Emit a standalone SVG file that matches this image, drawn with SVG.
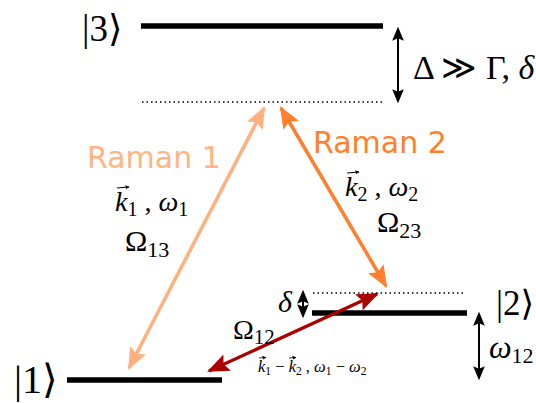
<svg xmlns="http://www.w3.org/2000/svg" width="536" height="403" viewBox="0 0 536 403">
<style>
.lvl{stroke:#000;stroke-width:5.5;fill:none}
.dot{stroke:#000;stroke-width:1.3;stroke-dasharray:1.5 3;fill:none}
.m{font-family:"Liberation Serif","DejaVu Serif",serif;fill:#000}
.i{font-style:italic}
.r{font-family:"DejaVu Sans","Liberation Sans",sans-serif}
</style>
<defs>
<marker id="hb" markerUnits="userSpaceOnUse" markerWidth="14" markerHeight="14" refX="10" refY="5" orient="auto-start-reverse" viewBox="0 0 12 10"><path d="M0,0 L12,5 L0,10 L2,5 Z" fill="#000"/></marker>
<marker id="h1" markerUnits="userSpaceOnUse" markerWidth="22" markerHeight="18" refX="20" refY="9" orient="auto-start-reverse" viewBox="0 0 22 18"><path d="M0,0 L22,9 L0,18 L4,9 Z" fill="#FFB07E"/></marker>
<marker id="h2" markerUnits="userSpaceOnUse" markerWidth="22" markerHeight="18" refX="20" refY="9" orient="auto-start-reverse" viewBox="0 0 22 18"><path d="M0,0 L22,9 L0,18 L4,9 Z" fill="#FF7F2A"/></marker>
<marker id="h3" markerUnits="userSpaceOnUse" markerWidth="22" markerHeight="18" refX="20" refY="9" orient="auto-start-reverse" viewBox="0 0 22 18"><path d="M0,0 L22,9 L0,18 L4,9 Z" fill="#AA0000"/></marker>
<marker id="va" markerUnits="userSpaceOnUse" markerWidth="4" markerHeight="4" refX="3.5" refY="2" orient="auto" viewBox="0 0 4 4"><path d="M0,0 L4,2 L0,4 Z" fill="#000"/></marker>
</defs>

<g id="level3">
<line class="lvl" x1="141" y1="26" x2="383" y2="26"/>
<text class="m" x="82" y="41" font-size="37">|3⟩</text>
</g>
<g id="virtual3">
<line class="dot" x1="142" y1="102" x2="383" y2="102"/>
</g>
<g id="level2">
<line class="lvl" x1="312" y1="313" x2="467" y2="313"/>
<text class="m" x="496" y="315" font-size="35">|2⟩</text>
</g>
<g id="virtual2">
<line class="dot" x1="313" y1="293" x2="466" y2="293"/>
</g>
<g id="level1">
<line class="lvl" x1="67" y1="380" x2="222" y2="380"/>
<text class="m" x="14" y="393" font-size="40">|1⟩</text>
</g>

<g id="connectors">
<line x1="398" y1="29" x2="398" y2="101" stroke="#000" stroke-width="2" marker-start="url(#hb)" marker-end="url(#hb)"/>
<line x1="303" y1="292" x2="303" y2="316" stroke="#000" stroke-width="2" marker-start="url(#hb)" marker-end="url(#hb)"/>
<line x1="479" y1="314" x2="479" y2="378" stroke="#000" stroke-width="2" marker-start="url(#hb)" marker-end="url(#hb)"/>
<line x1="129" y1="368" x2="264" y2="108" stroke="#FFB07E" stroke-width="3.5" marker-start="url(#h1)" marker-end="url(#h1)"/>
<line x1="281" y1="108" x2="386" y2="286" stroke="#FF7F2A" stroke-width="3.5" marker-start="url(#h2)" marker-end="url(#h2)"/>
<line x1="209" y1="371" x2="377" y2="294" stroke="#AA0000" stroke-width="3.2" marker-start="url(#h3)" marker-end="url(#h3)"/>
</g>

<g id="labels">
<text class="m" x="413" y="79" font-size="34">Δ ≫ Γ, <tspan class="i">δ</tspan></text>
<text class="m i" x="278" y="312" font-size="30">δ</text>
<text class="m" x="489" y="358" font-size="32"><tspan class="i">ω</tspan><tspan font-size="22" dy="5">12</tspan></text>

<text class="r" x="87" y="168" font-size="30" fill="#FFB483">Raman 1</text>
<text class="r" x="313" y="153" font-size="30" fill="#FF7F2A">Raman 2</text>

<text class="m" x="115" y="211" font-size="28"><tspan class="i">k</tspan><tspan font-size="20" dy="5">1</tspan><tspan dy="-5"> , </tspan><tspan class="i">ω</tspan><tspan font-size="20" dy="5">1</tspan></text>
<line x1="117" y1="188" x2="129" y2="187" stroke="#000" stroke-width="1.2" marker-end="url(#va)"/>
<text class="m" x="125" y="251" font-size="30">Ω<tspan font-size="22" dy="6">13</tspan></text>

<text class="m" x="345" y="196" font-size="28"><tspan class="i">k</tspan><tspan font-size="20" dy="5">2</tspan><tspan dy="-5"> , </tspan><tspan class="i">ω</tspan><tspan font-size="20" dy="5">2</tspan></text>
<line x1="347" y1="173" x2="359" y2="172" stroke="#000" stroke-width="1.2" marker-end="url(#va)"/>
<text class="m" x="377" y="232" font-size="30">Ω<tspan font-size="22" dy="6">23</tspan></text>

<text class="m" x="233" y="339" font-size="28">Ω<tspan font-size="21" dy="5">12</tspan></text>

<text class="m" x="258" y="372" font-size="16.5"><tspan class="i">k</tspan><tspan font-size="11.5" dy="2.5">1</tspan><tspan dy="-2.5"> − </tspan><tspan class="i">k</tspan><tspan font-size="11.5" dy="2.5">2</tspan><tspan dy="-2.5"> , </tspan><tspan class="i">ω</tspan><tspan font-size="11.5" dy="2.5">1</tspan><tspan dy="-2.5"> − </tspan><tspan class="i">ω</tspan><tspan font-size="11.5" dy="2.5">2</tspan></text>
<line x1="259" y1="358" x2="266" y2="357.5" stroke="#000" stroke-width="0.8" marker-end="url(#va)"/>
<line x1="289" y1="358" x2="296" y2="357.5" stroke="#000" stroke-width="0.8" marker-end="url(#va)"/>
</g>
</svg>
